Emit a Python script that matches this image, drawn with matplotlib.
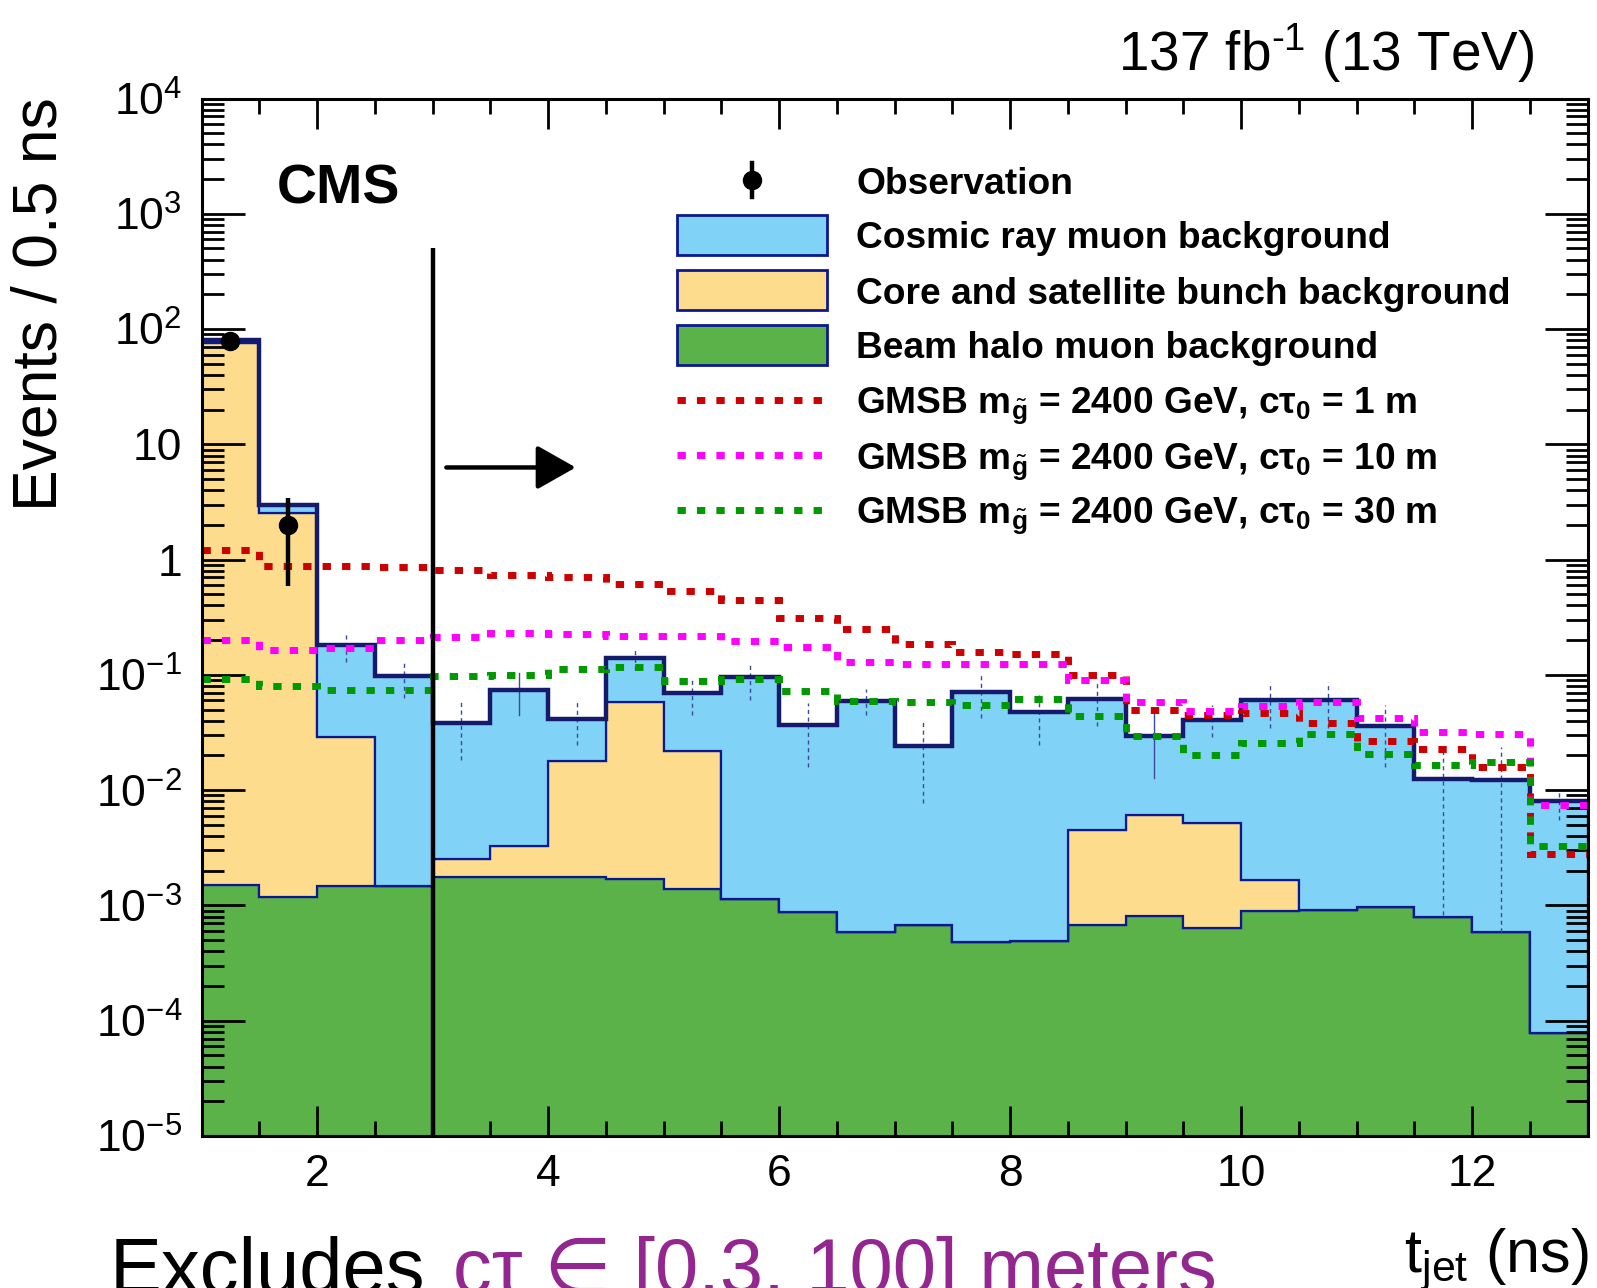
import numpy as np
import matplotlib
matplotlib.use("Agg")
import matplotlib.pyplot as plt
from matplotlib.patches import Rectangle
from matplotlib.lines import Line2D
from matplotlib.ticker import LogLocator, MultipleLocator, FuncFormatter, NullFormatter

plt.rcParams['font.family'] = ['Liberation Sans', 'DejaVu Sans']
plt.rcParams['mathtext.fontset'] = 'custom'
plt.rcParams['mathtext.rm'] = 'Liberation Sans'
plt.rcParams['mathtext.it'] = 'Liberation Sans:italic'
plt.rcParams['mathtext.bf'] = 'Liberation Sans:bold'

# ---- binning: t_jet in 0.5 ns bins ----
bin_edges = [1.0, 1.5, 2.0, 2.5, 3.0, 3.5, 4.0, 4.5, 5.0, 5.5, 6.0, 6.5,
             7.0, 7.5, 8.0, 8.5, 9.0, 9.5, 10.0, 10.5, 11.0, 11.5, 12.0, 12.5, 13.0]

# ---- background components (events / 0.5 ns) ----
beam_halo = [1.50e-3, 1.18e-3, 1.48e-3, 1.48e-3, 1.75e-3, 1.77e-3, 1.78e-3, 1.71e-3,
             1.38e-3, 1.14e-3, 8.7e-4, 5.9e-4, 6.7e-4, 4.8e-4, 4.9e-4, 6.8e-4,
             8.1e-4, 6.4e-4, 9.0e-4, 9.2e-4, 9.6e-4, 8.0e-4, 5.9e-4, 7.8e-5]
core_satellite = [75.0, 2.54, 0.0275, 0.0, 7.7e-4, 1.52e-3, 0.0163, 0.0565,
                  0.0206, 0.0, 0.0, 0.0, 0.0, 0.0, 0.0, 3.8e-3,
                  5.3e-3, 4.6e-3, 7.7e-4, 0.0, 0.0, 0.0, 0.0, 0.0]
cosmic = [5.0, 0.46, 0.154, 0.0955, 0.0358, 0.0701, 0.0233, 0.0818,
          0.0477, 0.0942, 0.0356, 0.0583, 0.0236, 0.070, 0.0472, 0.0575,
          0.0235, 0.0356, 0.0583, 0.0601, 0.0352, 0.0118, 0.0117, 0.0079]

# uncertainty band on the total background (upper / lower edge)
bkg_unc_up = [85.0, 3.3, 0.232, 0.130, 0.0585, 0.1045, 0.0585, 0.166,
              0.0908, 0.130, 0.0574, 0.075, 0.040, 0.100, 0.0714, 0.0873,
              0.047, 0.055, 0.0873, 0.0873, 0.0551, 0.0238, 0.0238, 0.0097]
bkg_unc_down = [75.0, 2.7, 0.130, 0.0634, 0.0184, 0.0452, 0.0248, 0.1109,
                0.0452, 0.0610, 0.0159, 0.045, 0.0078, 0.0425, 0.0248, 0.0362,
                0.0128, 0.029, 0.0349, 0.0349, 0.0159, 0.00083, 0.00059, 0.00553]
bkg_unc_solid = [False, False, False, False, False, True, False, False,
                 False, False, False, False, False, False, False, False,
                 True, False, False, False, False, False, False, False]

# ---- observed events ----
observed = [79, 2, 0, 0, 0, 0, 0, 0, 0, 0, 0, 0,
            0, 0, 0, 0, 0, 0, 0, 0, 0, 0, 0, 0]

# ---- GMSB signal hypotheses, m(gluino) = 2400 GeV ----
sig_ctau_1m = [1.205, 0.875, 0.875, 0.87, 0.82, 0.74, 0.70, 0.62,
               0.531, 0.45, 0.31, 0.248, 0.184, 0.157, 0.153, 0.1005,
               0.0499, 0.0452, 0.0467, 0.0382, 0.0265, 0.0229, 0.016, 0.00281]
sig_ctau_10m = [0.202, 0.166, 0.170, 0.202, 0.213, 0.231, 0.226, 0.216,
                0.218, 0.198, 0.174, 0.130, 0.125, 0.125, 0.124, 0.0897,
                0.0585, 0.0482, 0.054, 0.0585, 0.042, 0.0317, 0.0309, 0.00747]
sig_ctau_30m = [0.092, 0.0794, 0.0734, 0.0737, 0.0984, 0.100, 0.1125, 0.117,
                0.089, 0.0927, 0.0725, 0.0593, 0.0577, 0.0543, 0.0618, 0.0437,
                0.0297, 0.0201, 0.0257, 0.0307, 0.0206, 0.0166, 0.0177, 0.00331]

legend_labels = [
    "Observation",
    "Cosmic ray muon background",
    "Core and satellite bunch background",
    "Beam halo muon background",
    r"GMSB m$_{\tilde{\mathbf{g}}}$ = 2400 GeV, cτ$_{\mathbf{0}}$ = 1 m",
    r"GMSB m$_{\tilde{\mathbf{g}}}$ = 2400 GeV, cτ$_{\mathbf{0}}$ = 10 m",
    r"GMSB m$_{\tilde{\mathbf{g}}}$ = 2400 GeV, cτ$_{\mathbf{0}}$ = 30 m",
]

# ---- style ----
c_cosmic = '#80d2f6'
c_core = '#fddc8d'
c_halo = '#5ab249'
c_edge = '#0c1890'
c_total = '#151b6c'
c_sig = ['#cc0000', '#ff00ff', '#009900']
sig_dash = (0, (1.2, 1.6))
sig_lw = 5.0

W, H = 1597, 1288
fig = plt.figure(figsize=(W / 100, H / 100), dpi=100)
ax_l, ax_r, ax_t, ax_b = 201.5, 1587.5, 98.5, 1136.0
ax = fig.add_axes([ax_l / W, 1 - ax_b / H, (ax_r - ax_l) / W, (ax_b - ax_t) / H])

edges = np.array(bin_edges)
halo = np.array(beam_halo)
core = np.array(core_satellite)
cos = np.array(cosmic)
lvl1 = halo
lvl2 = halo + core
lvl3 = halo + core + cos

# stacked backgrounds
ax.stairs(lvl1, edges, baseline=1e-7, fill=True, facecolor=c_halo,
          edgecolor=c_edge, linewidth=1.6, zorder=1)
ax.stairs(lvl2, edges, baseline=lvl1, fill=True, facecolor=c_core,
          edgecolor=c_edge, linewidth=1.6, zorder=1.1)
ax.stairs(lvl3, edges, baseline=lvl2, fill=True, facecolor=c_cosmic,
          edgecolor=c_edge, linewidth=1.6, zorder=1.2)

# background uncertainty
centers = 0.5 * (edges[:-1] + edges[1:])
for xc, up, dn, solid in zip(centers, bkg_unc_up, bkg_unc_down, bkg_unc_solid):
    ax.plot([xc, xc], [dn, up], color='#3c4c9c', lw=1.0,
            linestyle='-' if solid else (0, (3, 2.5)), zorder=1.5)

# total background outline
ax.stairs(lvl3, edges, baseline=None, color=c_total, linewidth=3.2, zorder=2)

# signals
for vals, col in zip([sig_ctau_1m, sig_ctau_10m, sig_ctau_30m], c_sig):
    ax.stairs(np.array(vals), edges, baseline=None, color=col, linewidth=sig_lw,
              linestyle=sig_dash, zorder=3)

# observation
obs = np.array(observed, dtype=float)
m = obs > 0
ax.errorbar(centers[m], obs[m], yerr=np.sqrt(obs[m]), fmt='o', color='k',
            ms=13, elinewidth=3.2, capsize=0, zorder=5)

# selection boundary and arrow
ax.vlines(3.0, 1e-5, 500, color='k', lw=3.2, zorder=4)
ax.annotate('', xy=(4.24, 6.3), xytext=(3.12, 6.3),
            arrowprops=dict(arrowstyle='-|>,head_length=1.2,head_width=0.68',
                            mutation_scale=20, lw=3.2, color='k',
                            shrinkA=0, shrinkB=0), zorder=4)

# axes
ax.set_xlim(1, 13)
ax.set_yscale('log')
ax.set_ylim(1e-5, 1e4)
ax.xaxis.set_major_locator(MultipleLocator(2))
ax.xaxis.set_minor_locator(MultipleLocator(0.5))
ax.yaxis.set_major_locator(LogLocator(base=10, numticks=20))
ax.yaxis.set_minor_locator(LogLocator(base=10, subs=np.arange(2, 10), numticks=20))
ax.yaxis.set_minor_formatter(NullFormatter())


def ylab(v, pos):
    e = int(round(np.log10(v)))
    if e == 0:
        return '1'
    if e == 1:
        return '10'
    return r'$\mathregular{10^{%d}}$' % e


ax.yaxis.set_major_formatter(FuncFormatter(ylab))
ax.tick_params(which='both', direction='in', top=True, right=True, width=2,
               colors='k')
ax.tick_params(axis='y', which='major', length=31, pad=14, labelsize=32)
ax.tick_params(axis='y', which='minor', length=15.5)
ax.tick_params(axis='x', which='major', length=21.6, pad=13, labelsize=32)
ax.tick_params(axis='x', which='minor', length=11)
for s in ax.spines.values():
    s.set_linewidth(2.2)
    s.set_zorder(6)


def axx(px):
    return (px - ax_l) / (ax_r - ax_l)


def axy(py):
    return (ax_b - py) / (ax_b - ax_t)


# legend
row_y = [180, 235, 290, 345, 400, 455, 510]
hx0, hx1, text_x = 677, 827, 856
box_h = 40
# observation entry
ax.plot([axx(752), axx(752)], [axy(163), axy(197)], transform=ax.transAxes,
        color='k', lw=3.2, clip_on=False, zorder=7)
ax.plot([axx(752)], [axy(180)], 'o', color='k', ms=13, transform=ax.transAxes,
        clip_on=False, zorder=7)
for yy, fc in zip(row_y[1:4], [c_cosmic, c_core, c_halo]):
    ax.add_patch(Rectangle((axx(hx0), axy(yy + box_h / 2)), axx(hx1) - axx(hx0),
                           axy(yy - box_h / 2) - axy(yy + box_h / 2),
                           transform=ax.transAxes, facecolor=fc, edgecolor=c_edge,
                           lw=2.0, clip_on=False, zorder=7))
for yy, col in zip(row_y[4:], c_sig):
    ax.add_line(Line2D([axx(hx0), axx(hx1)], [axy(yy), axy(yy)], transform=ax.transAxes,
                       color=col, lw=sig_lw, linestyle=sig_dash, clip_on=False, zorder=7))
for yy, lab in zip(row_y, legend_labels):
    ax.text(axx(text_x), axy(yy + 13.5), lab, transform=ax.transAxes, fontsize=26.7,
            fontweight='bold', va='baseline', ha='left', zorder=8)

# labels and annotations
ax.text(axx(277), axy(204), 'CMS', transform=ax.transAxes, fontsize=40,
        fontweight='bold', va='baseline', ha='left', zorder=8)
fig.text(1534 / W, 1 - 71 / H, r'137 fb$^{\mathregular{‐1}}$ (13 TeV)', fontsize=39.5,
         ha='right', va='baseline')
fig.text(40 / W, 1 - 97 / H, 'Events / 0.5 ns', fontsize=45, rotation=90,
         ha='center', va='top')
fig.text(1589 / W, 1 - 1272 / H, r'$\mathregular{t_{jet}}$ (ns)', fontsize=44,
         ha='right', va='baseline')
fig.text(110 / W, 1 - 1293 / H, 'Excludes', fontsize=56, ha='left', va='baseline')
fig.text(453 / W, 1 - 1293 / H, 'cτ ∈ [0.3, 100] meters', fontsize=56,
         ha='left', va='baseline', color='#93278f')

fig.savefig('out.png', dpi=100)
